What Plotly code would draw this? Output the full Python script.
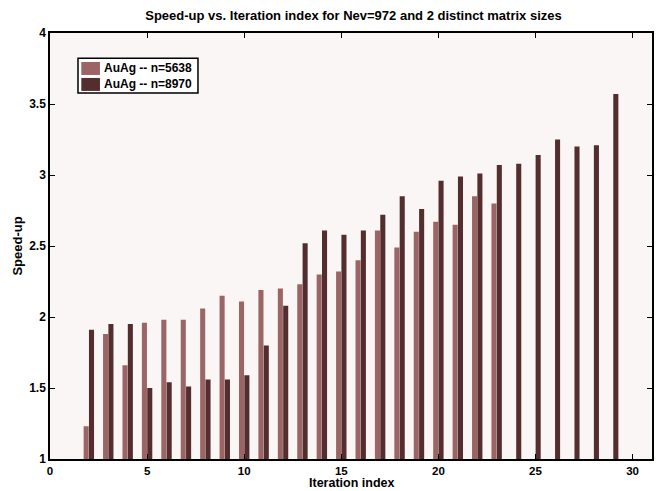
import plotly.graph_objects as go

# Índices de iteración y speed-up
iteraciones = list(range(2, 30))

speedup_5638 = [
    1.23, 1.88, 1.66, 1.96, 1.98, 1.98, 2.06, 2.15, 2.11, 2.19,
    2.20, 2.23, 2.30, 2.32, 2.40, 2.61, 2.49, 2.60, 2.67, 2.65,
    2.85, 2.80, None, None, None, None, None, None,
]
speedup_8970 = [
    1.91, 1.95, 1.95, 1.50, 1.54, 1.51, 1.56, 1.56, 1.59, 1.80,
    2.08, 2.52, 2.61, 2.58, 2.61, 2.72, 2.85, 2.76, 2.96, 2.99,
    3.01, 3.07, 3.08, 3.14, 3.25, 3.20, 3.21, 3.57,
]
series = ["AuAg -- n=5638", "AuAg -- n=8970"]

COLOR_CLARO = "#9b6565"
COLOR_OSCURO = "#542e2f"
FUENTE = "Liberation Sans, Arial, sans-serif"

fig = go.Figure()
fig.add_trace(go.Bar(
    x=iteraciones, y=speedup_5638, name=series[0],
    marker=dict(color=COLOR_CLARO, line=dict(width=0)),
))
fig.add_trace(go.Bar(
    x=iteraciones, y=speedup_8970, name=series[1],
    marker=dict(color=COLOR_OSCURO, line=dict(width=0)),
))

# Leyenda dibujada a mano (estilo MATLAB: caja compacta, muestras rectangulares)
fig.add_shape(type="rect", xref="paper", yref="paper",
              x0=0.0465, x1=0.2458, y0=0.859, y1=0.941,
              fillcolor="white", line=dict(color="black", width=1.5), layer="above")
for i, (nombre, color) in enumerate(zip(series, [COLOR_CLARO, COLOR_OSCURO])):
    y_top = 0.932 - i * 0.0375
    fig.add_shape(type="rect", xref="paper", yref="paper",
                  x0=0.052, x1=0.083, y0=y_top - 0.0305, y1=y_top,
                  fillcolor=color, line=dict(width=0), layer="above")
    fig.add_annotation(xref="paper", yref="paper", x=0.0865, y=y_top - 0.0153,
                       xanchor="left", yanchor="middle", showarrow=False,
                       text=f"<b>{nombre}</b>",
                       font=dict(family=FUENTE, size=12, color="black"))

# título del eje x como anotación para afinar su posición
fig.add_annotation(xref="paper", yref="paper", x=0.5, y=-0.0575,
                   xanchor="center", yanchor="middle", showarrow=False,
                   text="<b>Iteration index</b>",
                   font=dict(family=FUENTE, size=12.5, color="black"))

ejes = dict(
    showgrid=False, zeroline=False, automargin=False,
    showline=True, linecolor="black", linewidth=1.5, mirror="ticks",
    ticks="inside", ticklen=5, tickcolor="black",
    tickfont=dict(family=FUENTE, size=12, color="black", weight="bold"),
)

fig.update_layout(
    barmode="group", bargap=0.45, bargroupgap=0.05,
    width=667, height=491, showlegend=False,
    paper_bgcolor="white", plot_bgcolor="#faf6f5",
    margin=dict(l=50, r=15, t=33, b=32),
    title=dict(
        text="<b>Speed-up vs. Iteration index for Nev=972 and 2 distinct matrix sizes</b>",
        font=dict(family=FUENTE, size=13, color="black"),
        x=0.53, xanchor="center", y=0.968, yanchor="middle",
    ),
    xaxis=dict(ejes, range=[0, 31], tickvals=[0, 5, 10, 15, 20, 25, 30],
               tickfont=dict(family=FUENTE, size=11.5, color="black", weight="bold")),
    yaxis=dict(
        ejes, range=[1, 4], tickvals=[1, 1.5, 2, 2.5, 3, 3.5, 4],
        title=dict(text="<b>Speed-up</b>", standoff=4,
                   font=dict(family=FUENTE, size=13, color="black")),
    ),
)

# quitar el margen del body para que la figura ocupe la ventana exacta
fig.write_html("out.html", config={"displayModeBar": False},
               post_script="document.body.style.margin='0';")
